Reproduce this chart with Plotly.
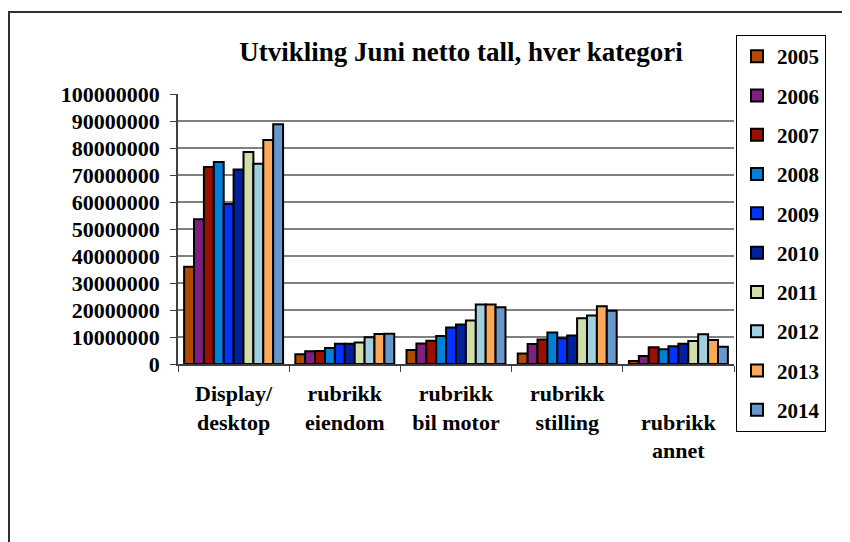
import plotly.graph_objects as go

categories = ["Display/<br>desktop", "rubrikk<br>eiendom", "rubrikk<br>bil motor",
              "rubrikk<br>stilling", " <br>rubrikk<br>annet"]
years = ["2005", "2006", "2007", "2008", "2009", "2010", "2011", "2012", "2013", "2014"]

v2005 = [36000000, 3600000, 5200000, 3900000, 1100000]
v2006 = [53600000, 4700000, 7600000, 7400000, 3000000]
v2007 = [73000000, 4800000, 8600000, 9100000, 6200000]
v2008 = [74800000, 5900000, 10400000, 11700000, 5500000]
v2009 = [59300000, 7500000, 13500000, 9500000, 6600000]
v2010 = [72000000, 7500000, 14600000, 10600000, 7500000]
v2011 = [78500000, 8000000, 16100000, 16900000, 8500000]
v2012 = [74200000, 9900000, 22000000, 18000000, 11000000]
v2013 = [83000000, 11100000, 22000000, 21400000, 8900000]
v2014 = [88800000, 11200000, 21000000, 19700000, 6400000]
series = [v2005, v2006, v2007, v2008, v2009, v2010, v2011, v2012, v2013, v2014]

colors = ["#B04A00", "#7F1F7F", "#9A1000", "#0080D8", "#0033FF",
          "#0020A0", "#D0DEAA", "#A0D0E0", "#FBA858", "#6698CC"]

yticks = list(range(0, 100000001, 10000000))

FONT = "Liberation Serif, Times New Roman, serif"

fig = go.Figure()
for y, vals, c in zip(years, series, colors):
    fig.add_trace(go.Bar(
        x=categories, y=vals, name=y, legendgroup=y,
        marker=dict(color=c, line=dict(color="black", width=2)),
    ))

# page body has an 8px margin, so work in figure coords = reference - 8
W, H = 842, 534
L, R, T, B = 170, 726, 86, 356
pw, ph = R - L, B - T

fig.update_layout(
    width=W, height=H,
    margin=dict(l=L, r=W - R, t=T, b=H - B, autoexpand=False),
    paper_bgcolor="white", plot_bgcolor="white",
    font=dict(family=FONT, size=22, color="black", weight="bold"),
    barmode="group", bargap=0.11, bargroupgap=0,
    title=dict(text="Utvikling Juni netto tall, hver kategori",
               font=dict(family=FONT, size=27, color="black", weight="bold"),
               x=(453 - L) / pw, xanchor="center", xref="paper",
               y=1 - 44 / H, yanchor="middle"),
    showlegend=True,
    legend=dict(x=(728 - L) / pw, y=(B - 27) / ph, xanchor="left", yanchor="top",
                bordercolor="black", borderwidth=1, bgcolor="white",
                font=dict(family=FONT, size=21, color="black", weight="bold"),
                tracegroupgap=9, itemwidth=30, maxheight=500,
                traceorder="grouped"),
    xaxis=dict(showline=True, linecolor="#404040", linewidth=1.5,
               ticks="outside", tickson="boundaries", ticklen=6,
               tickcolor="#404040", tickwidth=1, ticklabelstandoff=9,
               showgrid=False, tickfont=dict(size=22)),
    yaxis=dict(range=[0, 100000000], tickvals=yticks,
               ticktext=[str(v) for v in yticks],
               showline=True, linecolor="#404040", linewidth=1.5,
               ticks="outside", ticklen=6, tickcolor="#404040",
               ticklabelstandoff=6,
               showgrid=True, gridcolor="#808080", gridwidth=1.5,
               zeroline=False, tickfont=dict(size=22)),
    shapes=[dict(type="rect", xref="paper", yref="paper",
                 x0=(1 - L) / pw, x1=(860 - L) / pw,
                 y0=(B - 560) / ph, y1=(B - 4) / ph,
                 line=dict(color="#303030", width=2), fillcolor="rgba(0,0,0,0)",
                 layer="below")],
)

fig.write_html("out.html")
